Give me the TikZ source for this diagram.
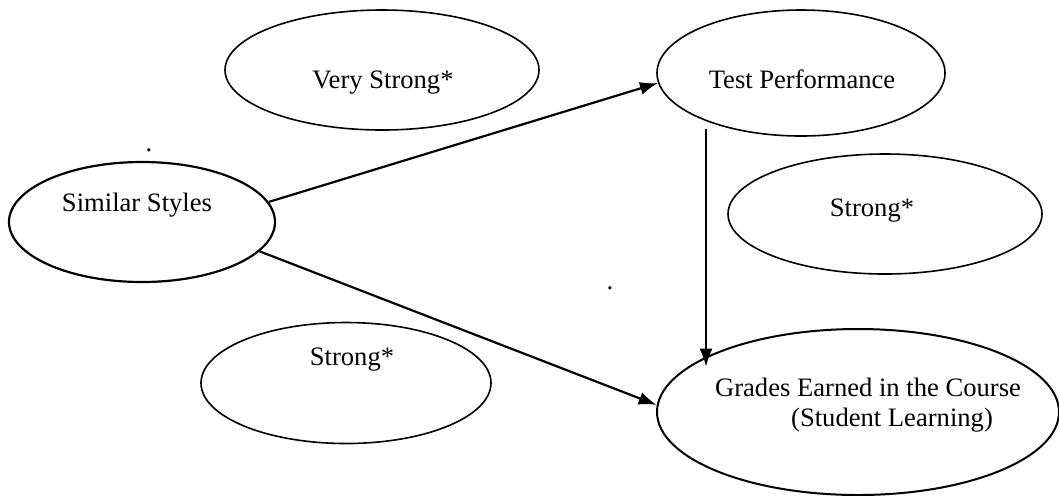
\documentclass[tikz,border=0pt]{standalone}
\usepackage{fontspec}
\setmainfont{Liberation Serif}
\usetikzlibrary{arrows.meta,shapes.geometric}

\begin{document}
\begin{tikzpicture}[x=0.5pt, y=-0.5pt,
  bubble/.style={draw, shape=ellipse, line width=0.8pt, inner sep=0pt},
  lbl/.style={anchor=base, font=\fontsize{13.3}{15}\selectfont},
  arr/.style={-{Latex[length=9pt,width=6.5pt]}, line width=1.1pt}]

\useasboundingbox (0,0) rectangle (1059,495);

\node[bubble, minimum width=157pt, minimum height=60pt] (vstrong) at (382,70) {};
\node[bubble, minimum width=144pt, minimum height=63pt] (test) at (801,73) {};
\node[bubble, line width=1.1pt, minimum width=133pt, minimum height=60pt] (sim) at (142,222) {};
\node[bubble, minimum width=157pt, minimum height=60pt] (strongR) at (885,214) {};
\node[bubble, minimum width=145pt, minimum height=60.5pt] (strongL) at (346,383) {};
\node[bubble, line width=1pt, minimum width=201pt, minimum height=83pt] (grades) at (858,412) {};

\node[lbl] (vstrongtxt) at (383,88) {Very Strong*};
\node[lbl] (testtxt) at (802,88) {Test Performance};
\node[lbl] (simtxt) at (137,211) {Similar Styles};
\node[lbl] (strongRtxt) at (872,216) {Strong*};
\node[lbl] (strongLtxt) at (352,365) {Strong*};
\node[lbl] (gradestxt) at (868,396) {Grades Earned in the Course};
\node[lbl] (gradessub) at (892,426) {(Student Learning)};

\node[lbl] (dotA) at (149,151) {.};
\node[lbl] (dotB) at (610,289) {.};

\coordinate (tpfoot) at (706,129);

\draw[arr] (sim.9) to (test.184);
\draw[arr] (sim.-14) to (grades.178);
\draw[arr, line width=0.9pt] (tpfoot) to ([yshift=-5pt]tpfoot |- grades.160);

\end{tikzpicture}
\end{document}
